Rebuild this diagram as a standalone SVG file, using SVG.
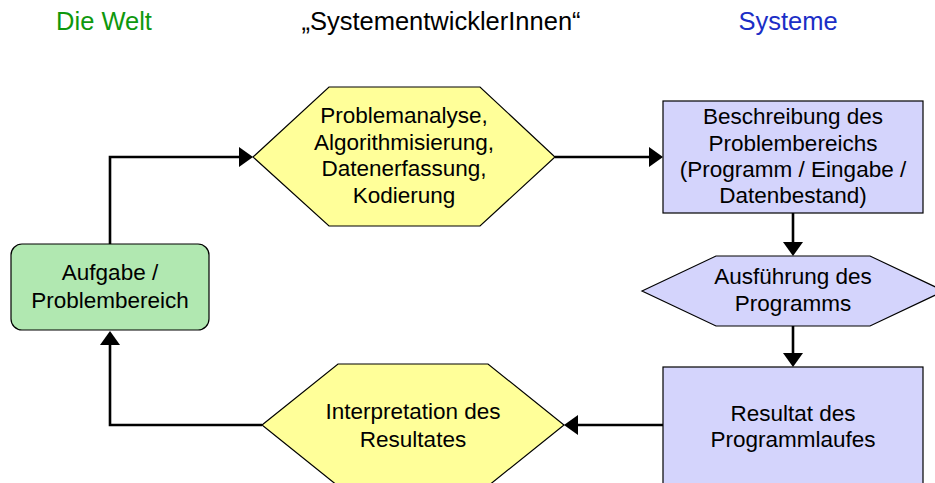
<svg xmlns="http://www.w3.org/2000/svg" width="935" height="483" viewBox="0 0 935 483">
  <style>
    text { font-family: "Liberation Sans", Arial, sans-serif; text-anchor: middle; }
    .head { font-size: 25.5px; }
    .label { font-size: 22.5px; fill: #000; }
    .node { stroke: #000; stroke-width: 1.2; }
    .green { fill: #b1e8b1; }
    .yellow { fill: #ffff99; }
    .blue { fill: #d4d4fc; }
    .conn { fill: none; stroke: #000; stroke-width: 2.6; marker-end: url(#arrow); }
  </style>
  <defs>
    <marker id="arrow" markerUnits="userSpaceOnUse" viewBox="0 -10 14 20" refX="0" refY="0" markerWidth="14" markerHeight="20" orient="auto">
      <path d="M0,-10 L14,0 L0,10 z" fill="#000"/>
    </marker>
  </defs>

  <!-- column headings -->
  <g id="headings">
    <text class="head" x="104" y="30" fill="#0e980e">Die Welt</text>
    <text class="head" x="441" y="30" fill="#000">„SystementwicklerInnen“</text>
    <text class="head" x="788" y="30" fill="#1b2ec6">Systeme</text>
  </g>

  <!-- connectors -->
  <g id="connectors">
    <path class="conn" d="M110,244 V157 H239"/>
    <path class="conn" d="M555,157 H649"/>
    <path class="conn" d="M793,213 V242"/>
    <path class="conn" d="M793,326 V353"/>
    <path class="conn" d="M663,425 H578"/>
    <path class="conn" d="M262,425 H110 V345"/>
  </g>

  <g id="aufgabe">
    <rect class="node green" x="11" y="244" width="198" height="86" rx="11" ry="11"/>
    <text class="label" x="110" y="280">Aufgabe /</text>
    <text class="label" x="110" y="308">Problembereich</text>
  </g>

  <g id="analyse">
    <polygon class="node yellow" points="253,157 329,87 480,87 555,157 480,226 329,226"/>
    <text class="label" x="404" y="123">Problemanalyse,</text>
    <text class="label" x="404" y="150">Algorithmisierung,</text>
    <text class="label" x="404" y="176">Datenerfassung,</text>
    <text class="label" x="404" y="203">Kodierung</text>
  </g>

  <g id="beschreibung">
    <rect class="node blue" x="663" y="101" width="260" height="112"/>
    <text class="label" x="793" y="124">Beschreibung des</text>
    <text class="label" x="793" y="151">Problembereichs</text>
    <text class="label" x="793" y="177">(Programm / Eingabe /</text>
    <text class="label" x="793" y="203">Datenbestand)</text>
  </g>

  <g id="ausfuehrung">
    <polygon class="node blue" points="642,291 716,256 870,256 944,291 870,326 716,326"/>
    <text class="label" x="793" y="284">Ausführung des</text>
    <text class="label" x="793" y="311">Programms</text>
  </g>

  <g id="resultat">
    <rect class="node blue" x="663" y="367" width="260" height="125"/>
    <text class="label" x="793" y="421">Resultat des</text>
    <text class="label" x="793" y="447">Programmlaufes</text>
  </g>

  <g id="interpretation">
    <polygon class="node yellow" points="262,425 338,364 488,364 564,425 488,486 338,486"/>
    <text class="label" x="413" y="419">Interpretation des</text>
    <text class="label" x="413" y="447">Resultates</text>
  </g>
</svg>
